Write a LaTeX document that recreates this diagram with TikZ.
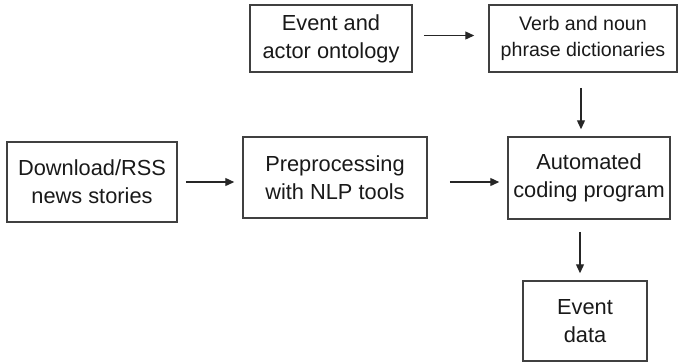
\documentclass[tikz,border=0pt]{standalone}
\usepackage{fontspec}
\setmainfont{Liberation Sans}
\usetikzlibrary{arrows.meta}
\begin{document}
\begin{tikzpicture}[x=0.5bp,y=-0.5bp,
  stagebox/.style={draw=black!75,line width=0.75bp,align=center,inner sep=0pt,
    font=\fontsize{10.9bp}{14bp}\selectfont,text=black!90},
  flow/.style={draw=black!85,line width=0.65bp,
    -{Triangle[length=4.5bp,width=4bp]}}]
\useasboundingbox (0,0) rectangle (678,363);
% processing stages
\node[stagebox,minimum width=81bp,minimum height=33.5bp] (ont) at (331,38.5)
  {Event and\\actor ontology};
\node[stagebox,minimum width=94bp,minimum height=33.5bp,
  font=\fontsize{9.8bp}{13bp}\selectfont] (dict) at (583,38.5)
  {Verb and noun\\phrase dictionaries};
\node[stagebox,minimum width=85bp,minimum height=40bp] (dl) at (92,182)
  {Download/RSS\\news stories};
\node[stagebox,minimum width=92bp,minimum height=40.5bp] (pre) at (335,177.5)
  {Preprocessing\\with NLP tools};
\node[stagebox,minimum width=81bp,minimum height=41bp] (auto) at (589,178)
  {Automated\\coding program};
\node[stagebox,minimum width=62bp,minimum height=40bp] (ev) at (585,321)
  {Event\\data};
% data flow
\draw[flow,shorten <=5.5bp,shorten >=7bp] ([yshift=1.5bp]ont.east) -- ([yshift=1.5bp]ont.east -| dict.west);
\draw[flow,shorten <=4bp,shorten >=4bp] (dl.east) -- (dl.east -| pre.west);
\draw[flow,shorten <=11bp,shorten >=4bp] (pre.east |- dl) -- (auto.west |- dl);
\draw[flow,shorten <=7.5bp,shorten >=3.5bp] ([xshift=-1bp]dict.south) -- ([xshift=-1bp]dict.south |- auto.north);
\draw[flow,shorten <=6bp,shorten >=3.5bp] ([xshift=-2.5bp]ev.north |- auto.south) -- ([xshift=-2.5bp]ev.north);
\end{tikzpicture}
\end{document}
